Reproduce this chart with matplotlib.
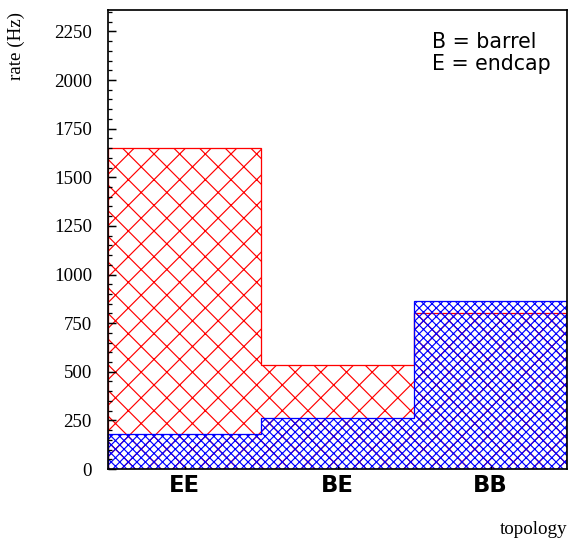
import numpy as np
import matplotlib
matplotlib.use("Agg")
import matplotlib.pyplot as plt
from matplotlib.ticker import MultipleLocator

# topology bins and trigger rates (Hz)
categories = ["EE", "BE", "BB"]
rate_red = [1650, 535, 802]
rate_blue = [180, 263, 863]
legend_lines = ["B = barrel", "E = endcap"]

DPI = 154
W, H = 571, 546

plt.rcParams['hatch.linewidth'] = 0.55

fig = plt.figure(figsize=(W / DPI, H / DPI), dpi=DPI)
ax = fig.add_axes([108 / W, (H - 469) / H, (567 - 108) / W, (469 - 10) / H])

edges = np.arange(len(categories) + 1)
ax.stairs(rate_red, edges, baseline=0, fill=True, facecolor='none',
          edgecolor='red', hatch='xx', linewidth=0.6)
ax.stairs(rate_blue, edges, baseline=0, fill=True, facecolor='none',
          edgecolor='blue', hatch='xxxxxx', linewidth=0.6)

ax.set_xlim(0, 3)
ax.set_ylim(0, 2360)

ax.yaxis.set_major_locator(MultipleLocator(250))
ax.yaxis.set_minor_locator(MultipleLocator(50))
ax.tick_params(axis='y', which='major', direction='in', length=3.8, width=0.7,
               pad=7.5, labelsize=8.8, right=False)
ax.tick_params(axis='y', which='minor', direction='in', length=1.9, width=0.6,
               right=False)
for lab in ax.get_yticklabels():
    lab.set_family('Liberation Serif')

centers = edges[:-1] + 0.5
ax.set_xticks(centers)
ax.set_xticklabels(categories, family='DejaVu Sans', weight='bold', fontsize=10.6)
ax.tick_params(axis='x', direction='in', length=1.2, width=0.6, pad=2.5, top=False)

for s in ax.spines.values():
    s.set_linewidth(0.8)

fig.text(8 / W, 1 - 12 / H, "rate (Hz)", rotation=90, ha='left', va='top',
         family='Liberation Serif', fontsize=8.9)
fig.text(567 / W, 1 - 530 / H, "topology", ha='right', va='center',
         family='Liberation Serif', fontsize=8.9)

for i, line in enumerate(legend_lines):
    fig.text(432 / W, 1 - (48 + 22 * i) / H, line, ha='left', va='baseline',
             family='DejaVu Sans', fontsize=9.6)

fig.savefig("out.png", dpi=DPI)
